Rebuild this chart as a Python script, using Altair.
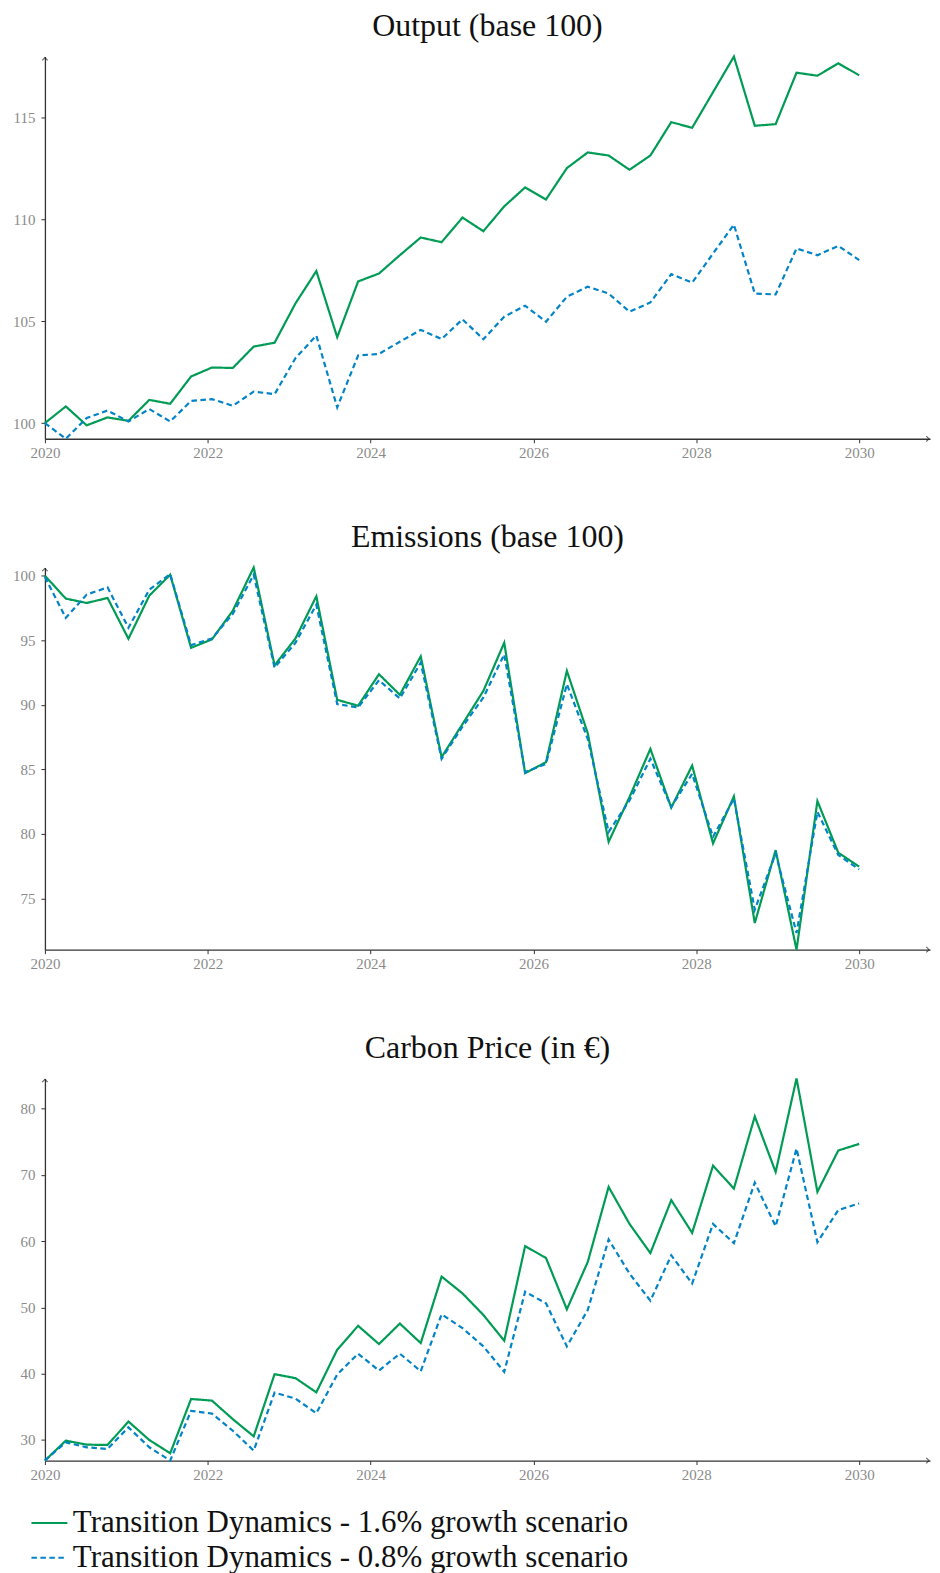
import altair as alt
import pandas as pd

# ---- data ----
n_points = 40
years = [2020 + i * 10 / 39 for i in range(n_points)]  # 40 evenly spaced periods 2020..2030

scenario_hi = "Transition Dynamics - 1.6% growth scenario"
scenario_lo = "Transition Dynamics - 0.8% growth scenario"

output_hi = [100.0, 100.82, 99.89, 100.28, 100.11, 101.14, 100.95, 102.29, 102.73, 102.71,
             103.76, 103.95, 105.88, 107.47, 104.22, 106.96, 107.35, 108.25, 109.12, 108.89,
             110.10, 109.43, 110.65, 111.58, 110.99, 112.53, 113.30, 113.15, 112.45, 113.15,
             114.79, 114.51, 116.26, 118.01, 114.61, 114.69, 117.22, 117.07, 117.68, 117.09]
output_lo = [100.0, 99.23, 100.25, 100.62, 100.08, 100.69, 100.08, 101.09, 101.18, 100.85,
             101.55, 101.42, 103.19, 104.30, 100.77, 103.32, 103.40, 104.00, 104.58, 104.13,
             105.10, 104.12, 105.23, 105.77, 104.98, 106.21, 106.70, 106.37, 105.47, 105.93,
             107.32, 106.90, 108.33, 109.75, 106.37, 106.32, 108.58, 108.25, 108.71, 108.01]

emis_hi = [100.0, 98.23, 97.89, 98.28, 95.12, 98.46, 100.08, 94.42, 95.07, 97.30,
           100.64, 93.06, 95.14, 98.41, 90.39, 89.93, 92.37, 90.78, 93.76, 85.95,
           88.51, 91.08, 94.81, 84.71, 85.56, 92.63, 87.80, 79.39, 82.86, 86.59,
           82.04, 85.30, 79.27, 82.91, 73.10, 78.75, 71.04, 82.55, 78.55, 77.47]
emis_lo = [99.9, 96.74, 98.54, 99.10, 95.97, 98.92, 100.13, 94.63, 95.14, 97.05,
           100.08, 92.88, 94.81, 97.76, 90.06, 89.80, 91.91, 90.49, 93.27, 85.82,
           88.31, 90.57, 93.91, 84.79, 85.43, 91.60, 87.36, 80.16, 82.60, 85.82,
           82.09, 84.66, 79.78, 82.73, 74.13, 78.49, 72.33, 81.71, 78.37, 77.26]

price_hi = [26.9, 29.9, 29.30, 29.25, 32.79, 30.0, 28.0, 36.19, 35.94, 33.14,
            30.55, 39.93, 39.33, 37.19, 43.62, 47.22, 44.47, 47.56, 44.62, 54.65,
            52.11, 48.86, 44.97, 59.24, 57.45, 49.71, 56.85, 68.17, 62.59, 58.19,
            66.18, 61.24, 71.37, 67.92, 78.80, 70.42, 84.54, 67.43, 73.66, 74.66]
price_lo = [26.9, 29.65, 28.9, 28.65, 31.90, 28.9, 26.9, 34.39, 33.99, 31.40,
            28.40, 37.14, 36.24, 34.04, 39.88, 43.02, 40.48, 43.02, 40.38, 48.96,
            46.87, 44.12, 40.28, 52.36, 50.61, 44.12, 49.61, 60.24, 55.10, 51.01,
            57.85, 53.60, 62.59, 59.69, 68.82, 62.23, 73.96, 59.84, 64.68, 65.68]

x_ticks = [2020, 2022, 2024, 2026, 2028, 2030]
panels = [
    ("Output (base 100)", output_hi, output_lo, [100, 105, 110, 115]),
    ("Emissions (base 100)", emis_hi, emis_lo, [75, 80, 85, 90, 95, 100]),
    ("Carbon Price (in €)", price_hi, price_lo, [30, 40, 50, 60, 70, 80]),
]

GREEN = "#009B55"
BLUE = "#0284C7"
FONT = "Liberation Serif"
W, H = 887, 383
X_MAX = 2030.87

legend = alt.Legend(orient="none", legendX=-15, legendY=1450, direction="vertical",
                    title=None, labelFont=FONT, labelFontSize=31, labelColor="#111",
                    symbolType="stroke", symbolSize=1300, symbolStrokeWidth=2,
                    rowPadding=-7, labelOffset=4, labelLimit=800)


def make_panel(title, hi, lo, yticks):
    df = pd.DataFrame({
        "year": years + years,
        "value": hi + lo,
        "scenario": [scenario_hi] * n_points + [scenario_lo] * n_points,
    })
    ymin = min(hi + lo)
    ymax = max(hi + lo)
    enc_color = alt.Color("scenario:N",
                          scale=alt.Scale(domain=[scenario_hi, scenario_lo], range=[GREEN, BLUE]),
                          legend=legend)
    enc_dash = alt.StrokeDash("scenario:N",
                              scale=alt.Scale(domain=[scenario_hi, scenario_lo],
                                              range=[[1, 0], [5.5, 3.5]]),
                              legend=legend)
    lines = alt.Chart(df).mark_line(strokeWidth=2.2, clip=False).encode(
        x=alt.X("year:Q",
                scale=alt.Scale(domain=[2020, X_MAX], nice=False, zero=False),
                axis=alt.Axis(values=x_ticks, format="d", title=None)),
        y=alt.Y("value:Q",
                scale=alt.Scale(domain=[ymin, ymax], nice=False, zero=False),
                axis=alt.Axis(values=yticks, format="d", title=None, labelPadding=6)),
        color=enc_color,
        strokeDash=enc_dash,
    )
    arrow_data = alt.Data(values=[{"a": 1}])
    up_arrow = alt.Chart(arrow_data).mark_point(
        shape="M-1,1L0,0L1,1", filled=False, size=30, color="#222", strokeWidth=1.1
    ).encode(x=alt.value(0), y=alt.value(1))
    right_arrow = alt.Chart(arrow_data).mark_point(
        shape="M-1,-1L0,0L-1,1", filled=False, size=30, color="#222", strokeWidth=1.1
    ).encode(x=alt.value(W - 1), y=alt.value(H))
    return alt.layer(lines, up_arrow, right_arrow).properties(
        width=W, height=H,
        title=alt.TitleParams(title, font=FONT, fontSize=32, fontWeight="normal",
                              color="#111", anchor="middle", offset=9),
    )

charts = [make_panel(t, hi, lo, yt) for (t, hi, lo, yt) in panels]

chart = alt.vconcat(*charts, spacing=60).properties(
    padding={"left": 0, "top": 0, "right": 0, "bottom": 0}
).configure_view(stroke=None).configure_axis(
    grid=False,
    domainColor="#333",
    domainWidth=1.3,
    tickColor="#333",
    tickSize=4,
    labelFont=FONT,
    labelFontSize=15,
    labelColor="#8a8a8a",
    labelPadding=3,
).configure_axisY(
    minExtent=37, maxExtent=37,
).configure_axisX(
    labelFlush=False,
)

chart.save("out.html", embed_options={"renderer": "svg", "actions": False})
